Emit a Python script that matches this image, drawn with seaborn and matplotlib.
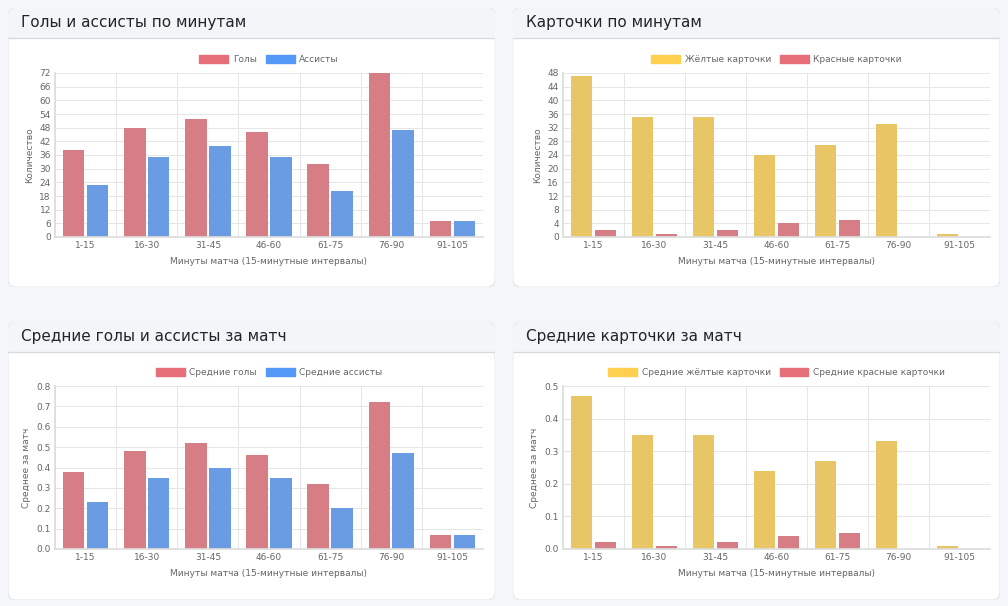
import matplotlib
matplotlib.use("Agg")
import matplotlib.pyplot as plt
from matplotlib.patches import FancyBboxPatch, Rectangle
import seaborn as sns
import pandas as pd
import numpy as np

intervals = ["1-15", "16-30", "31-45", "46-60", "61-75", "76-90", "91-105"]
goals = [38, 48, 52, 46, 32, 72, 7]
assists = [23, 35, 40, 35, 20, 47, 7]
yellow = [47, 35, 35, 24, 27, 33, 1]
red = [2, 1, 2, 4, 5, 0, 0]
avg_goals = [0.38, 0.48, 0.52, 0.46, 0.32, 0.72, 0.07]
avg_assists = [0.23, 0.35, 0.40, 0.35, 0.20, 0.47, 0.07]
avg_yellow = [0.47, 0.35, 0.35, 0.24, 0.27, 0.33, 0.01]
avg_red = [0.02, 0.01, 0.02, 0.04, 0.05, 0.0, 0.0]

RED = "#e66e79"
BLUE = "#5599f7"
YEL = "#ffd04f"

sns.set_theme(style="white")
plt.rcParams['font.family'] = ['DejaVu Sans']

W, H = 1008, 606
fig = plt.figure(figsize=(W / 100, H / 100), dpi=100)
fig.patch.set_facecolor("#f4f6f9")


def px(x, y, w, h):
    return [x / W, 1 - (y + h) / H, w / W, h / H]


def card(x, y, w, h, title):
    bg = fig.add_axes(px(x, y, w, h), zorder=0)
    bg.set_xlim(0, w); bg.set_ylim(h, 0); bg.axis("off")
    bg.add_patch(FancyBboxPatch((0, 0), w, h, boxstyle="round,pad=0,rounding_size=8",
                                fc="white", ec="#e3e6ea", lw=0.8))
    bg.add_patch(FancyBboxPatch((0, 0), w, 30, boxstyle="round,pad=0,rounding_size=8",
                                fc="#f3f5f8", ec="none"))
    bg.add_patch(Rectangle((0, 15), w, 15, fc="#f3f5f8", ec="none"))
    bg.plot([0, w], [30, 30], color="#d5d9de", lw=0.9)
    bg.text(13, 15, title, fontsize=11, va="center", ha="left", color="#212529")


def chart(rect, names, series, colors, ymax, step, ylabel, fmt):
    ax = fig.add_axes(px(*rect), zorder=1)
    df = pd.DataFrame({
        "interval": np.tile(intervals, len(names)),
        "value": np.concatenate(series),
        "series": np.repeat(names, len(intervals)),
    })
    sns.barplot(data=df, x="interval", y="value", hue="series", palette=colors,
                width=0.78, gap=0.1, ax=ax, legend=False, linewidth=0)
    ax.set_ylim(0, ymax)
    ax.set_yticks(np.arange(0, ymax + step / 2, step))
    ax.set_yticklabels([fmt(v) for v in np.arange(0, ymax + step / 2, step)])
    ax.set_xlim(-0.5, len(intervals) - 0.5)
    ax.set_xticks(np.arange(-0.5, len(intervals), 1), minor=True)
    ax.grid(True, which="minor", axis="x", color="#e6e6e6", lw=0.7)
    ax.grid(True, which="major", axis="y", color="#e6e6e6", lw=0.7)
    ax.set_axisbelow(True)
    for s in ["top", "right"]:
        ax.spines[s].set_visible(False)
    for s in ["left", "bottom"]:
        ax.spines[s].set_color("#dddddd")
    ax.tick_params(axis="both", which="both", labelsize=6.5, colors="#666666", length=0, pad=3)
    ax.set_xlabel("Минуты матча (15-минутные интервалы)", fontsize=6.5, color="#666666", labelpad=5)
    ax.set_ylabel(ylabel, fontsize=6.5, color="#666666", labelpad=4)
    handles = [Rectangle((0, 0), 1, 1, fc=c, ec=c) for c in colors]
    ax.legend(handles, names, loc="lower center", bbox_to_anchor=(0.5, 1.03), ncol=2,
              frameon=False, fontsize=6.5, handlelength=3.2, handleheight=1.0,
              columnspacing=1.0, handletextpad=0.5, labelcolor="#666666", borderaxespad=0)
    return ax


card(8, 8, 487, 279, "Голы и ассисты по минутам")
card(513, 8, 487, 279, "Карточки по минутам")
card(8, 322, 487, 278, "Средние голы и ассисты за матч")
card(513, 322, 487, 278, "Средние карточки за матч")

intfmt = lambda v: f"{int(round(v))}"
decfmt = lambda v: f"{v:.1f}"

chart((55, 73, 428, 164), ["Голы", "Ассисты"], [goals, assists], [RED, BLUE],
      72, 6, "Количество", intfmt)
chart((563, 73, 427, 164), ["Жёлтые карточки", "Красные карточки"], [yellow, red], [YEL, RED],
      47, 4, "Количество", intfmt)
chart((55, 386, 428, 163), ["Средние голы", "Средние ассисты"], [avg_goals, avg_assists],
      [RED, BLUE], 0.8, 0.1, "Среднее за матч", decfmt)
chart((563, 386, 427, 163), ["Средние жёлтые карточки", "Средние красные карточки"],
      [avg_yellow, avg_red], [YEL, RED], 0.5, 0.1, "Среднее за матч", decfmt)

fig.savefig("out.png", dpi=100, facecolor=fig.get_facecolor())
